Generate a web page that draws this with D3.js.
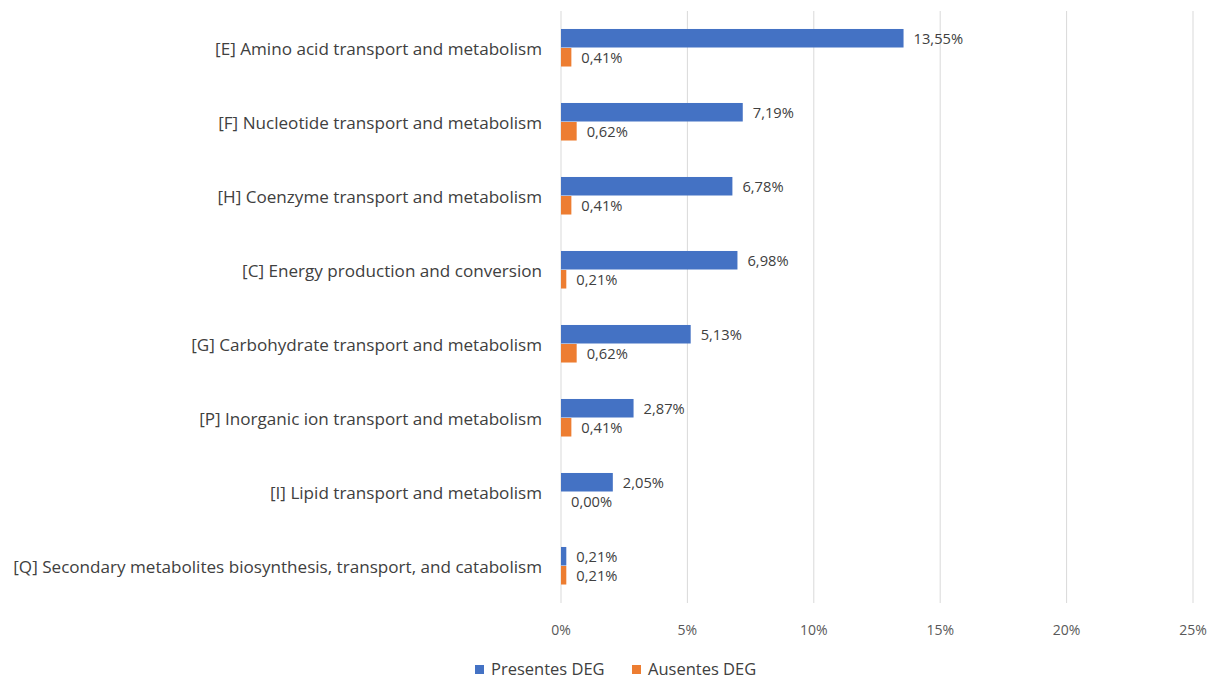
<!DOCTYPE html>
<html>
<head>
<meta charset="utf-8">
<script src="https://cdn.jsdelivr.net/npm/d3@7"></script>
<style>
  html, body { margin: 0; padding: 0; background: #fff; }
  svg { display: block; font-family: "Open Sans", sans-serif; }
</style>
</head>
<body>
<svg id="chart" width="1216" height="681"></svg>
<script>
const categories = [
  "[E] Amino acid transport and metabolism",
  "[F] Nucleotide transport and metabolism",
  "[H] Coenzyme transport and metabolism",
  "[C] Energy production and conversion",
  "[G] Carbohydrate transport and metabolism",
  "[P] Inorganic ion transport and metabolism",
  "[I] Lipid transport and metabolism",
  "[Q] Secondary metabolites biosynthesis, transport, and catabolism"
];
const presentes = [13.55, 7.19, 6.78, 6.98, 5.13, 2.87, 2.05, 0.21];
const ausentes  = [0.41, 0.62, 0.41, 0.21, 0.62, 0.41, 0.00, 0.21];
const seriesNames = ["Presentes DEG", "Ausentes DEG"];
const ticks = [0, 5, 10, 15, 20, 25];

const colors = ["#4472C4", "#ED7D31"];
const fmt = v => v.toFixed(2).replace(".", ",") + "%";

const svg = d3.select("#chart");
const plot = { left: 561, right: 1193, top: 11, bottom: 603 };

const x = d3.scaleLinear().domain([0, 25]).range([plot.left, plot.right]);
const y = d3.scaleBand().domain(categories).range([plot.top, plot.bottom]).paddingInner(0.486).paddingOuter(0.243);
const ySub = d3.scaleBand().domain(seriesNames).range([0, y.bandwidth()]);

// vertical gridlines
svg.append("g")
  .selectAll("line")
  .data(ticks)
  .join("line")
    .attr("x1", d => x(d)).attr("x2", d => x(d))
    .attr("y1", plot.top).attr("y2", plot.bottom)
    .attr("stroke", "#d9d9d9")
    .attr("stroke-width", 1);

// x tick labels
svg.append("g")
  .selectAll("text")
  .data(ticks)
  .join("text")
    .attr("x", d => x(d))
    .attr("y", 630)
    .attr("dy", "0.35em")
    .attr("text-anchor", "middle")
    .attr("fill", "#595959")
    .style("font-size", "14px")
    .text(d => d + "%");

// category labels
svg.append("g")
  .selectAll("text")
  .data(categories)
  .join("text")
    .attr("x", plot.left - 19)
    .attr("y", d => y(d) + y.bandwidth() / 2 + 1)
    .attr("dy", "0.35em")
    .attr("text-anchor", "end")
    .attr("fill", "#404040")
    .style("font-size", "17.1px")
    .text(d => d);

const rows = categories.map((c, i) => ({ c, vals: [presentes[i], ausentes[i]] }));

const groups = svg.append("g")
  .selectAll("g")
  .data(rows)
  .join("g")
    .attr("transform", d => `translate(0,${y(d.c)})`);

groups.selectAll("rect")
  .data(d => d.vals.map((v, k) => ({ v, k })))
  .join("rect")
    .attr("x", x(0))
    .attr("y", d => ySub(seriesNames[d.k]))
    .attr("width", d => x(d.v) - x(0))
    .attr("height", ySub.bandwidth() - 0.5)
    .attr("fill", d => colors[d.k]);

groups.selectAll("text")
  .data(d => d.vals.map((v, k) => ({ v, k })))
  .join("text")
    .attr("x", d => x(d.v) + 10)
    .attr("y", d => ySub(seriesNames[d.k]) + ySub.bandwidth() / 2)
    .attr("dy", "0.35em")
    .attr("fill", "#404040")
    .style("font-size", "14.7px")
    .text(d => fmt(d.v));

// legend
const legend = svg.append("g").attr("transform", "translate(475,669)");
const legendX = [0, 157];
seriesNames.forEach((name, k) => {
  const g = legend.append("g").attr("transform", `translate(${legendX[k]},0)`);
  g.append("rect")
    .attr("x", 0).attr("y", -4)
    .attr("width", 9).attr("height", 9)
    .attr("fill", colors[k]);
  g.append("text")
    .attr("x", 16).attr("y", 0)
    .attr("dy", "0.35em")
    .attr("fill", "#404040")
    .style("font-size", "16.5px")
    .text(name);
});
</script>
</body>
</html>
